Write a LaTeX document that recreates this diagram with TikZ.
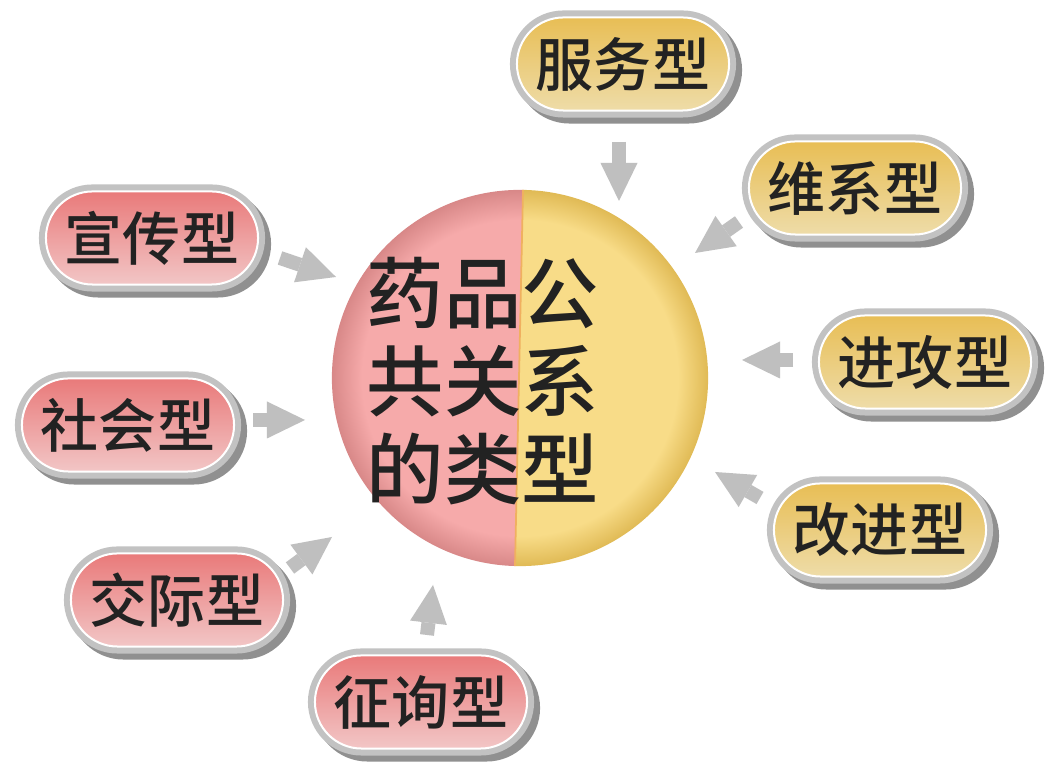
\documentclass[tikz,border=0pt]{standalone}
\usepackage{fontspec}
\newfontfamily\cjk{Noto Sans CJK SC}[UprightFont={* Medium}, BoldFont={* Bold}]
\usepackage{tikz}
\usetikzlibrary{arrows.meta,shapes.misc,shadows}
\definecolor{pkTop}{HTML}{E97A7A}
\definecolor{pkBot}{HTML}{F2C6C6}
\definecolor{gdTop}{HTML}{E8BE55}
\definecolor{gdBot}{HTML}{EEDCA8}
\definecolor{ringgray}{HTML}{C2C2C2}
\definecolor{shgray}{HTML}{909090}
\definecolor{arrgray}{HTML}{BFBFBF}
\definecolor{txt}{HTML}{222222}
\definecolor{pkin}{HTML}{F6AAAA}
\definecolor{pkout}{HTML}{D88888}
\definecolor{gdin}{HTML}{F8DC88}
\definecolor{gdout}{HTML}{E0BA55}
\definecolor{splitc}{HTML}{F0B060}
\pgfdeclareradialshading{pinkball}{\pgfpoint{0bp}{0bp}}{color(0bp)=(pkin); color(21bp)=(pkin); color(25bp)=(pkout); color(50bp)=(pkout)}
\pgfdeclareradialshading{goldball}{\pgfpoint{0bp}{0bp}}{color(0bp)=(gdin); color(21bp)=(gdin); color(25bp)=(gdout); color(50bp)=(gdout)}

\begin{document}
\begin{tikzpicture}[
    x=0.01cm, y=-0.01cm,
    pill/.style={rounded rectangle, minimum width=2.12cm, minimum height=0.93cm, inner sep=0pt,
        draw=white, line width=0.02cm, text=txt, font=\cjk\fontsize{16.5}{18}\selectfont,
        drop shadow={shadow xshift=0.06cm, shadow yshift=-0.06cm, fill=shgray, draw=shgray, line width=0.14cm, opacity=1},
        preaction={draw=ringgray, line width=0.14cm}},
    rosy/.style={pill, top color=pkTop, bottom color=pkBot},
    amber/.style={pill, top color=gdTop, bottom color=gdBot},
    blk/.style={draw=arrgray, line width=0.14cm, -{Triangle[length=0.38cm, width=0.37cm, line width=0pt]}}
]
\fill[white] (0,0) rectangle (1051,768);
\useasboundingbox (0,0) rectangle (1051,768);

\coordinate (mid) at (520,378);
\begin{scope}
    \clip (524,150) -- (514,610) -- (300,610) -- (300,150) -- cycle;
    \shade[shading=pinkball] (mid) circle[radius=1.88cm];
\end{scope}
\begin{scope}
    \clip (524,150) -- (514,610) -- (740,610) -- (740,150) -- cycle;
    \shade[shading=goldball] (mid) circle[radius=1.88cm];
\end{scope}
\draw[splitc, line width=0.5pt] (523,190) -- (515,566);
\node[text=txt, align=center, font=\cjk\fontsize{22}{25}\selectfont] (leixing) at (483,381) {药品公\\共关系\\的类型};

\node[amber] (fuwu) at (623,64) {服务型};
\node[amber] (weixi) at (855,188) {维系型};
\node[amber] (jingong) at (925,362) {进攻型};
\node[amber] (gaijin) at (880,530) {改进型};
\node[rosy] (zhengxun) at (421,702) {征询型};
\node[rosy] (jiaoji) at (177,600) {交际型};
\node[rosy] (shehui) at (128,425) {社会型};
\node[rosy] (xuanchuan) at (152,238) {宣传型};

\coordinate (fuwu-t) at (619,142);      \coordinate (fuwu-h) at (619,201);
\coordinate (weixi-t) at (739,222);     \coordinate (weixi-h) at (695,253);
\coordinate (jingong-t) at (793,360);   \coordinate (jingong-h) at (742,360);
\coordinate (gaijin-t) at (760,498);    \coordinate (gaijin-h) at (715,472);
\coordinate (zhengxun-t) at (427,635);  \coordinate (zhengxun-h) at (433,585);
\coordinate (jiaoji-t) at (290,568);    \coordinate (jiaoji-h) at (332,537);
\coordinate (shehui-t) at (253,420);    \coordinate (shehui-h) at (305,420);
\coordinate (xuanchuan-t) at (280,258); \coordinate (xuanchuan-h) at (336,277);

\draw[blk] (fuwu-t) -- (fuwu-h);
\draw[blk] (weixi-t) -- (weixi-h);
\draw[blk] (jingong-t) -- (jingong-h);
\draw[blk] (gaijin-t) -- (gaijin-h);
\draw[blk] (zhengxun-t) -- (zhengxun-h);
\draw[blk] (jiaoji-t) -- (jiaoji-h);
\draw[blk] (shehui-t) -- (shehui-h);
\draw[blk] (xuanchuan-t) -- (xuanchuan-h);
\end{tikzpicture}
\end{document}
